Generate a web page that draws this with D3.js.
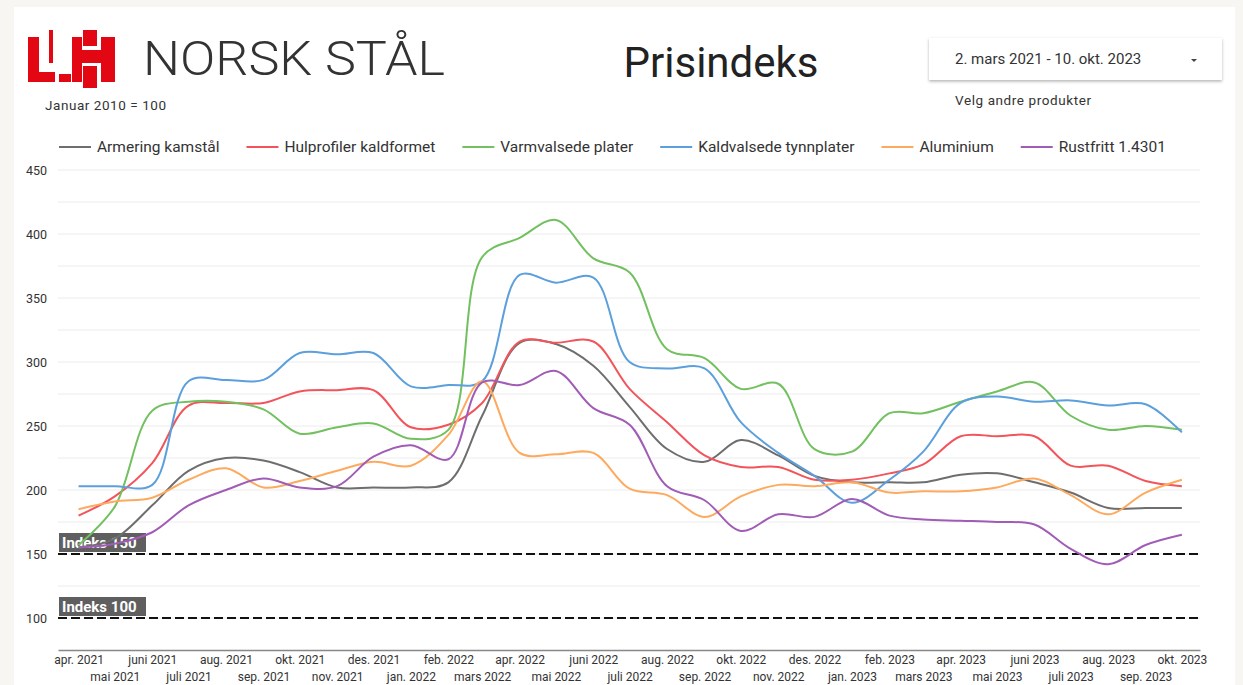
<!DOCTYPE html>
<html>
<head>
<meta charset="utf-8">
<script src="https://cdn.jsdelivr.net/npm/d3@7"></script>
<style>
  body { margin: 0; background: #f8f6f2; }
  svg { display: block; font-family: Roboto, "Noto Sans", sans-serif; }
</style>
</head>
<body>
<div id="chart"></div>
<script>
// months from apr. 2021 to okt. 2023
const months = d3.timeMonths(new Date(2021, 3, 1), new Date(2023, 9, 2));

const monthLabels = [
  "apr. 2021", "mai 2021", "juni 2021", "juli 2021", "aug. 2021", "sep. 2021", "okt. 2021", "nov. 2021", "des. 2021",
  "jan. 2022", "feb. 2022", "mars 2022", "apr. 2022", "mai 2022", "juni 2022", "juli 2022", "aug. 2022", "sep. 2022",
  "okt. 2022", "nov. 2022", "des. 2022", "jan. 2023", "feb. 2023", "mars 2023", "apr. 2023", "mai 2023", "juni 2023",
  "juli 2023", "aug. 2023", "sep. 2023", "okt. 2023"
];

const seriesNames = ["Armering kamstål", "Hulprofiler kaldformet", "Varmvalsede plater", "Kaldvalsede tynnplater", "Aluminium", "Rustfritt 1.4301"];
const seriesColors = ["#6e6e6e", "#f2545b", "#72c05f", "#5b9fdc", "#fdaa5e", "#a15cb6"];

const armering = [155, 162, 188, 215, 225, 223, 214, 202, 202, 202, 206, 258, 315, 314, 297, 265, 232, 222, 239, 227, 211, 206, 206, 206, 212, 213, 206, 198, 186, 186, 186];
const hulprofiler = [180, 195, 221, 266, 268, 268, 277, 278, 278, 249, 251, 268, 316, 315, 316, 279, 253, 227, 218, 218, 208, 208, 213, 220, 242, 242, 242, 219, 219, 207, 203];
const varmvalsede = [157, 187, 262, 269, 269, 263, 244, 249, 252, 240, 247, 382, 397, 411, 381, 370, 310, 303, 279, 283, 232, 230, 260, 260, 269, 277, 284, 258, 247, 250, 247];
const kaldvalsede = [203, 203, 204, 285, 286, 286, 307, 306, 307, 281, 282, 285, 368, 362, 366, 300, 295, 295, 253, 229, 211, 190, 208, 230, 268, 273, 269, 270, 266, 267, 245];
const aluminium = [185, 191, 194, 208, 217, 202, 207, 215, 222, 219, 243, 285, 229, 228, 229, 201, 196, 179, 195, 204, 203, 206, 198, 199, 199, 202, 209, 196, 181, 198, 208];
const rustfritt = [155, 158, 167, 188, 200, 209, 202, 203, 226, 235, 224, 284, 282, 293, 264, 251, 203, 192, 168, 181, 179, 193, 180, 177, 176, 175, 173, 154, 142, 157, 165];

const yTicks = [100, 150, 200, 250, 300, 350, 400, 450];
const refLines = [150, 100];

const allSeries = [armering, hulprofiler, varmvalsede, kaldvalsede, aluminium, rustfritt];

const width = 1243, height = 685;
const svg = d3.select("#chart").append("svg")
  .attr("width", width)
  .attr("height", height);

// white card
svg.append("rect")
  .attr("x", 14).attr("y", 7)
  .attr("width", 1221).attr("height", 700)
  .attr("fill", "#fff");

// logo
const logo = svg.append("g").attr("fill", "#e30613");
[[28, 37, 11, 45], [28, 72, 27, 10], [49, 30, 4, 33], [59, 74, 12, 8],
 [72, 37, 10, 45], [83, 30, 14, 16], [101, 37, 14, 45], [72, 50, 43, 13], [83, 66, 14, 22]]
  .forEach(r => logo.append("rect").attr("x", r[0]).attr("y", r[1]).attr("width", r[2]).attr("height", r[3]));

svg.append("text")
  .attr("x", 143).attr("y", 75)
  .attr("font-size", 49).attr("font-weight", 300)
  .attr("fill", "#333")
  .attr("textLength", 302)
  .attr("lengthAdjust", "spacingAndGlyphs")
  .text("NORSK STÅL");

svg.append("text")
  .attr("x", 45).attr("y", 110)
  .attr("font-size", 13.5).attr("fill", "#333")
  .attr("textLength", 121)
  .text("Januar 2010 = 100");

svg.append("text")
  .attr("x", 721).attr("y", 77)
  .attr("text-anchor", "middle")
  .attr("font-size", 42).attr("fill", "#222")
  .text("Prisindeks");

// date picker
const defs = svg.append("defs");
const shadow = defs.append("filter").attr("id", "shadow").attr("x", "-10%").attr("y", "-30%").attr("width", "120%").attr("height", "170%");
shadow.append("feDropShadow").attr("dx", 0).attr("dy", 1.5).attr("stdDeviation", 1.5).attr("flood-color", "#000").attr("flood-opacity", 0.3);

svg.append("rect")
  .attr("x", 929).attr("y", 38)
  .attr("width", 293).attr("height", 42)
  .attr("fill", "#fff")
  .attr("filter", "url(#shadow)");
svg.append("text")
  .attr("x", 955).attr("y", 64)
  .attr("font-size", 15).attr("fill", "#333")
  .text("2. mars 2021 - 10. okt. 2023");
svg.append("path")
  .attr("d", "M1191,59 L1197,59 L1194,62 Z")
  .attr("fill", "#444");
svg.append("text")
  .attr("x", 955).attr("y", 105)
  .attr("font-size", 13.5).attr("fill", "#333")
  .attr("textLength", 136)
  .text("Velg andre produkter");

// scales
const plotLeft = 58, plotRight = 1200, plotTop = 170, plotBottom = 650;
const x = d3.scaleTime()
  .domain([new Date(2021, 2, 15), new Date(2023, 9, 16)])
  .range([plotLeft, plotRight]);
const y = d3.scaleLinear()
  .domain([75, 450])
  .range([plotBottom, plotTop]);

// gridlines
svg.append("g")
  .selectAll("line")
  .data(d3.range(100, 451, 25))
  .join("line")
  .attr("x1", plotLeft).attr("x2", plotRight)
  .attr("y1", d => y(d)).attr("y2", d => y(d))
  .attr("stroke", "#ececec")
  .attr("stroke-width", 1);

// y axis labels
const yAxis = svg.append("g")
  .attr("transform", `translate(${plotLeft - 11},0)`)
  .call(d3.axisLeft(y).tickValues(yTicks).tickSize(0).tickPadding(0));
yAxis.select(".domain").remove();
yAxis.selectAll("text").attr("font-size", 12.5).attr("fill", "#333").attr("font-family", "Roboto, sans-serif");

// x axis
const xAxis = svg.append("g")
  .attr("transform", `translate(0,${plotBottom})`)
  .call(d3.axisBottom(x).tickValues(months).tickSize(0).tickFormat((d, i) => monthLabels[i]));
xAxis.select(".domain").attr("stroke", "#888").attr("stroke-width", 1.5);
xAxis.selectAll("text")
  .attr("font-size", 12).attr("fill", "#333").attr("font-family", "Roboto, sans-serif")
  .attr("dy", null)
  .attr("y", (d, i) => i % 2 === 0 ? 14 : 31);

// reference lines + labels
const refs = svg.append("g");
refLines.forEach(v => {
  refs.append("line")
    .attr("x1", plotLeft).attr("x2", plotRight)
    .attr("y1", y(v)).attr("y2", y(v))
    .attr("stroke", "#111")
    .attr("stroke-width", 2)
    .attr("stroke-dasharray", "9,4");
  refs.append("rect")
    .attr("x", plotLeft + 1).attr("y", y(v) - 21)
    .attr("width", 87).attr("height", 19)
    .attr("fill", "#5f5f5f");
  refs.append("text")
    .attr("x", plotLeft + 4).attr("y", y(v) - 6.5)
    .attr("font-size", 15).attr("font-weight", "bold")
    .attr("fill", "#fff")
    .text("Indeks " + v);
});

// series lines
const line = d3.line()
  .x((d, i) => x(months[i]))
  .y(d => y(d))
  .curve(d3.curveCatmullRom.alpha(0.5));

svg.append("g")
  .selectAll("path")
  .data(allSeries)
  .join("path")
  .attr("d", d => line(d))
  .attr("fill", "none")
  .attr("stroke", (d, i) => seriesColors[i])
  .attr("stroke-width", 2);

// legend
const legend = svg.append("g").attr("transform", "translate(59,147)");
let lx = 0;
seriesNames.forEach((name, i) => {
  legend.append("line")
    .attr("x1", lx).attr("x2", lx + 32)
    .attr("stroke", seriesColors[i]).attr("stroke-width", 2);
  const t = legend.append("text")
    .attr("x", lx + 38).attr("y", 5)
    .attr("font-size", 15.5).attr("fill", "#333")
    .text(name);
  lx += 38 + t.node().getComputedTextLength() + 27;
});
</script>
</body>
</html>
